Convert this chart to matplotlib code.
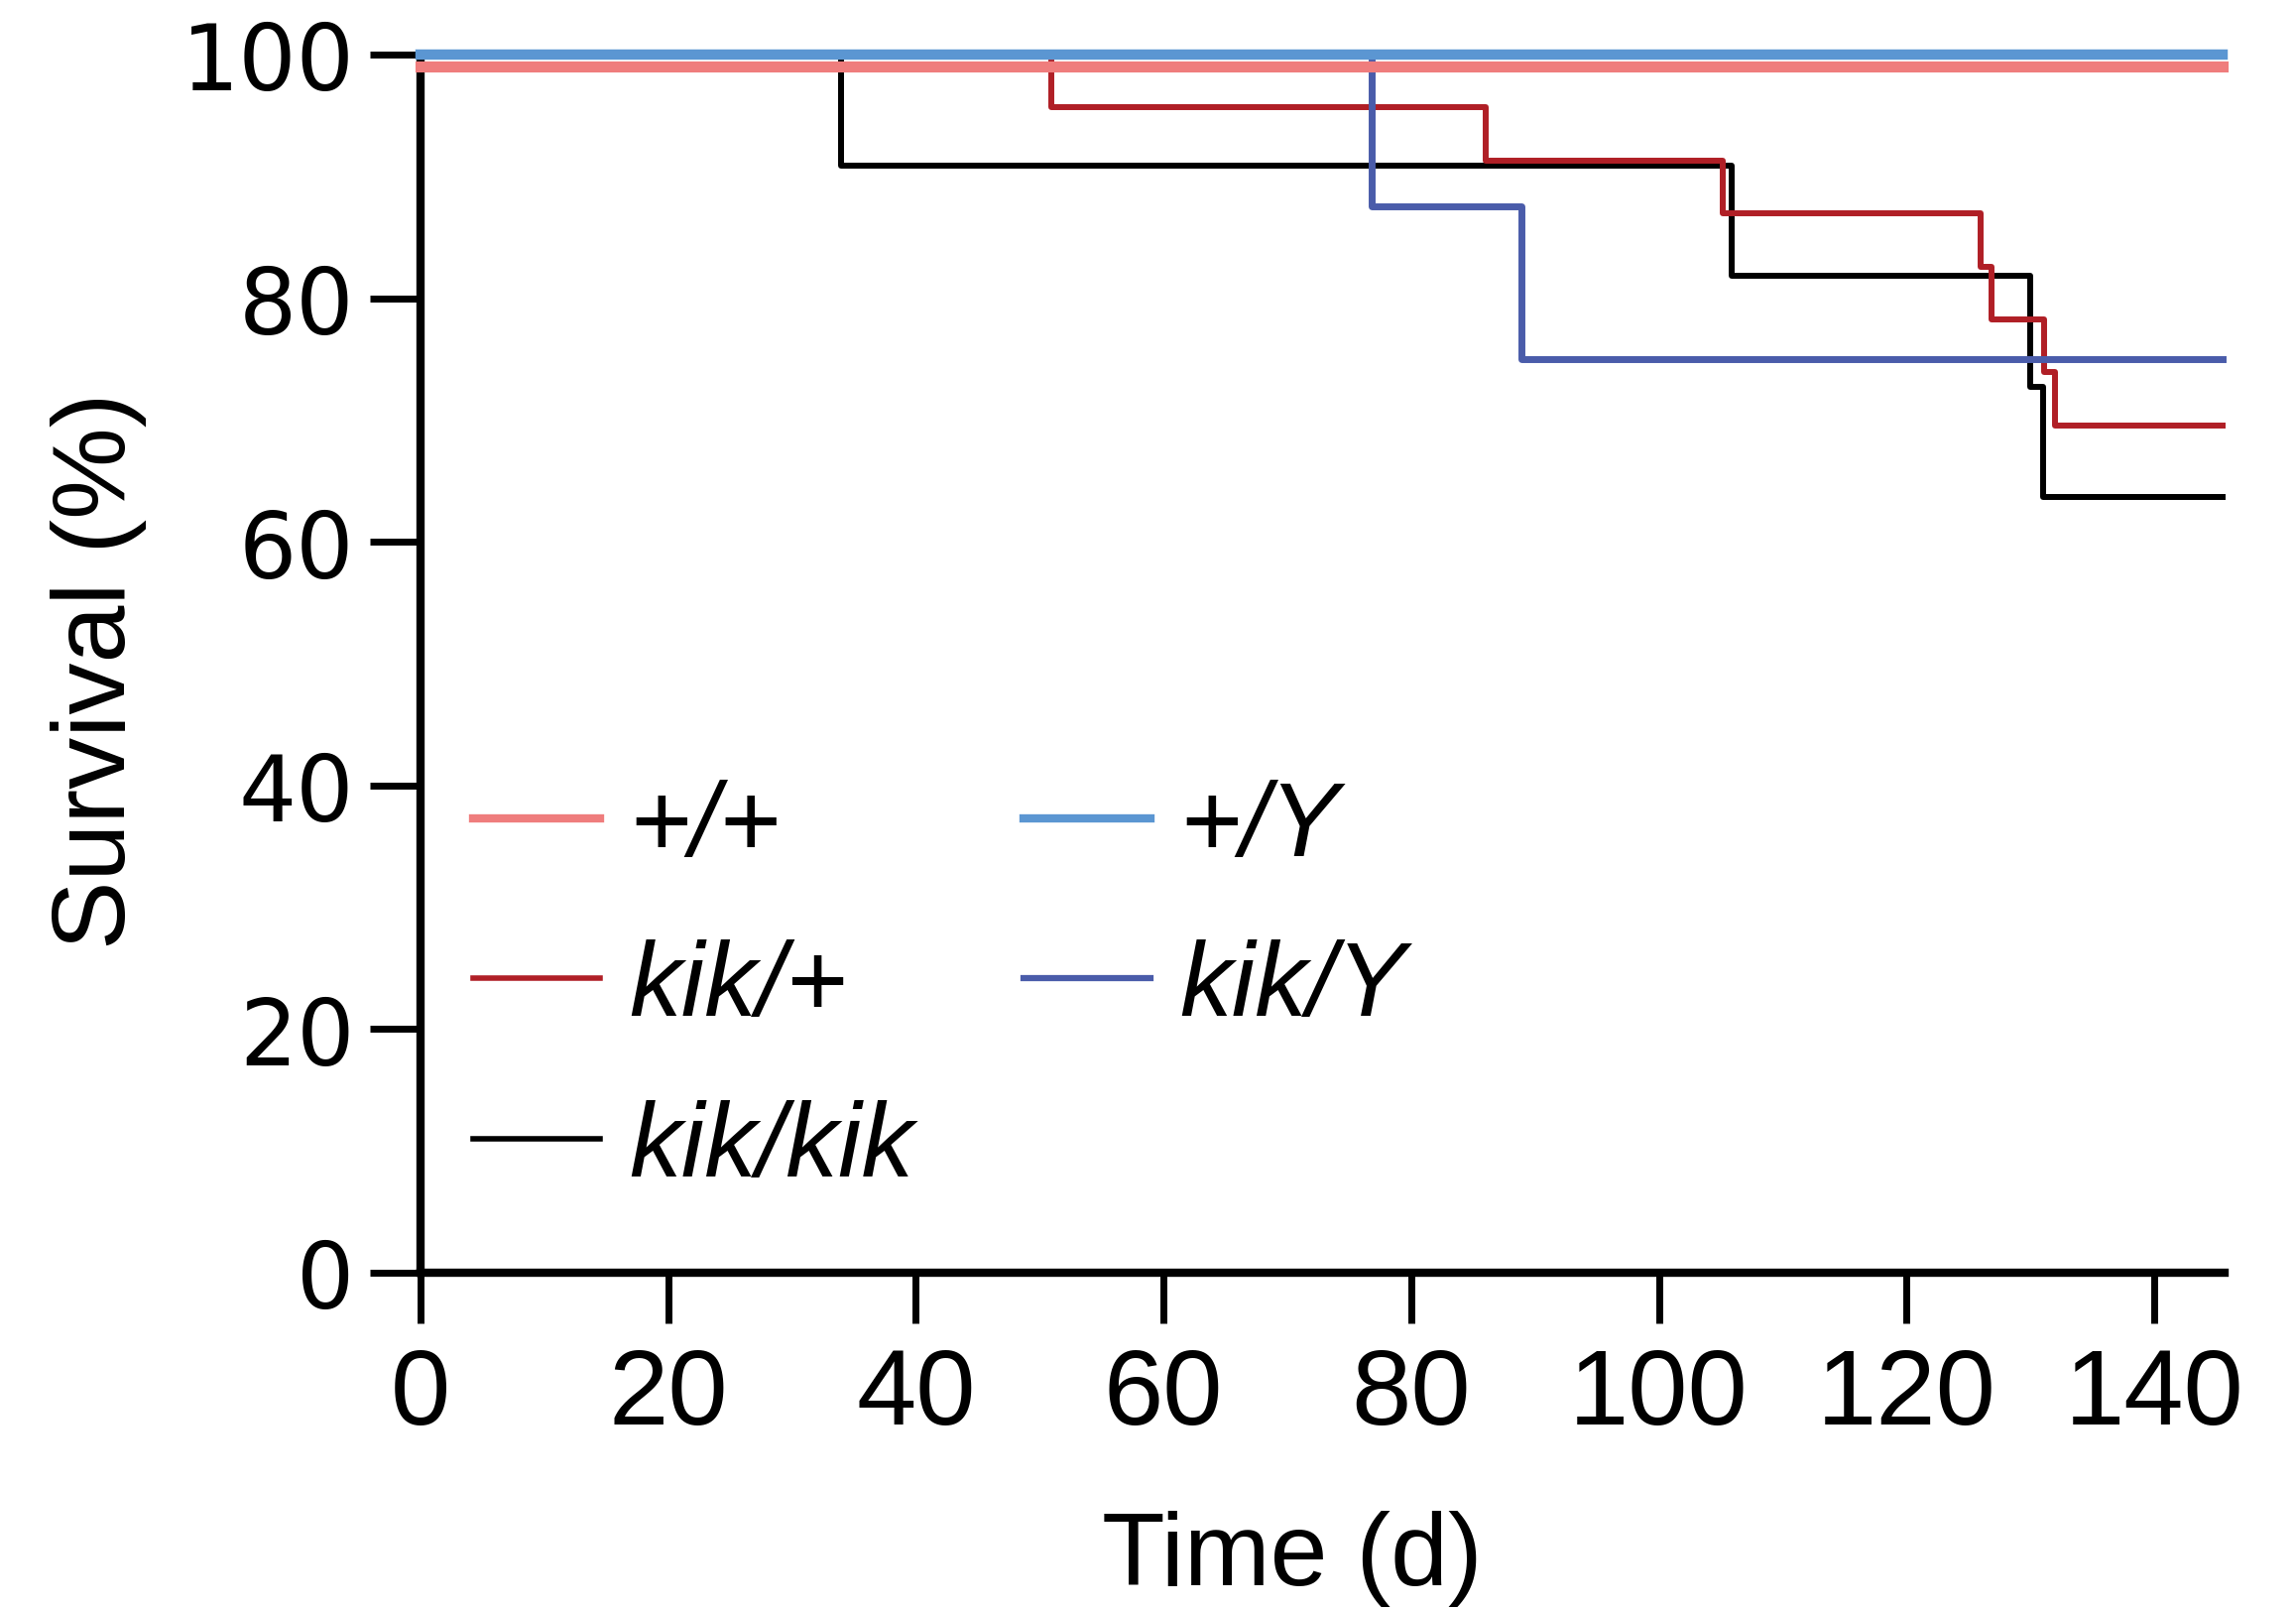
import matplotlib
matplotlib.use("Agg")
import matplotlib.pyplot as plt
from matplotlib import font_manager

# Kaplan-Meier steps: event times (days) and survival (%) after each event
time_wt_female = [0, 145.5]
surv_wt_female = [99.0, 99.0]

time_wt_male = [0, 145.5]
surv_wt_male = [100.0, 100.0]

time_kik_het = [0, 50.9, 86.0, 105.2, 126.0, 126.9, 131.1, 132.0, 145.5]
surv_kik_het = [100.0, 95.65, 91.30, 86.96, 82.61, 78.26, 73.91, 69.57, 69.57]

time_kik_male = [0, 76.8, 88.9, 145.5]
surv_kik_male = [100.0, 87.5, 75.0, 75.0]

time_kik_hom = [0, 34.0, 105.9, 130.0, 131.0, 145.5]
surv_kik_hom = [100.0, 90.91, 81.82, 72.73, 63.64, 63.64]

labels = ["+/+", "kik/+", "kik/kik", "+/Y", "kik/Y"]
colors = {"+/+": "#ef7d7d", "kik/+": "#b01f26", "kik/kik": "#000000",
          "+/Y": "#5b96d2", "kik/Y": "#4a5caa"}

x_ticks = [0, 20, 40, 60, 80, 100, 120, 140]
y_ticks = [0, 20, 40, 60, 80, 100]


def pick_font_files():
    """Return (regular, italic) font files of an Arial-like sans family."""
    wanted = ["Liberation Sans", "Arimo", "Nimbus Sans", "Arial", "Helvetica", "Roboto"]
    for fam in wanted:
        reg = ita = None
        for f in font_manager.fontManager.ttflist:
            if f.name != fam:
                continue
            bold = isinstance(f.weight, int) and f.weight >= 600 or str(f.weight) in ("bold", "heavy", "black", "semibold", "demibold")
            if bold or "Narrow" in f.fname:
                continue
            if f.style == "normal" and reg is None:
                reg = f.fname
            elif f.style in ("italic", "oblique") and ita is None:
                ita = f.fname
        if reg:
            return reg, ita or reg
    return None, None


reg_file, ita_file = pick_font_files()
if reg_file:
    fp_reg = font_manager.FontProperties(fname=reg_file)
    fp_ita = font_manager.FontProperties(fname=ita_file)
else:
    fp_reg = font_manager.FontProperties(family="DejaVu Sans")
    fp_ita = font_manager.FontProperties(family="DejaVu Sans", style="italic")

fig = plt.figure(figsize=(23.15, 16.24), dpi=100)
ax = fig.add_axes([0.18315, 0.20936, 0.7858, 0.75616])

# darker genotype curves sit underneath the wild-type lines
h_hom, = ax.step(time_kik_hom, surv_kik_hom, where="post", color=colors["kik/kik"],
                 lw=4.3, zorder=2, clip_on=False, label="kik/kik")
h_het, = ax.step(time_kik_het, surv_kik_het, where="post", color=colors["kik/+"],
                 lw=4.3, zorder=2.1, clip_on=False, label="kik/+")
h_km, = ax.step(time_kik_male, surv_kik_male, where="post", color=colors["kik/Y"],
                lw=5, zorder=2.2, clip_on=False, label="kik/Y")
h_wf, = ax.step(time_wt_female, surv_wt_female, where="post", color=colors["+/+"],
                lw=8, zorder=3, clip_on=False, label="+/+")
h_wm, = ax.step(time_wt_male, surv_wt_male, where="post", color=colors["+/Y"],
                lw=7.5, zorder=3.1, clip_on=False, label="+/Y")

ax.set_xlim(0, 145.7)
ax.set_ylim(0, 100)
ax.set_xticks(x_ticks)
ax.set_yticks(y_ticks)

for side in ("top", "right"):
    ax.spines[side].set_visible(False)
for side in ("left", "bottom"):
    ax.spines[side].set_linewidth(6)
    ax.spines[side].set_capstyle("projecting")

ax.tick_params(axis="both", direction="out", length=37, width=5, color="black")
ax.tick_params(axis="x", pad=16)
ax.tick_params(axis="y", pad=11)
for lbl in ax.get_xticklabels():
    lbl.set_fontproperties(fp_reg)
    lbl.set_fontsize(78)
for lbl in ax.get_yticklabels():
    lbl.set_fontfamily("DejaVu Sans")
    lbl.set_fontsize(66)

ax.set_xlabel("Time (d)", fontproperties=fp_reg, fontsize=75)
ax.xaxis.set_label_coords(0.4832, -0.1946)
ax.set_ylabel("Survival (%)", fontproperties=fp_reg, fontsize=75)
ax.yaxis.set_label_coords(-0.1517, 0.495)

leg_prop = fp_ita.copy()
leg_prop.set_size(76)
handles = [h_wf, h_het, h_hom, h_wm, h_km]
leg = ax.legend(handles, labels, ncol=2, loc="upper left",
                bbox_to_anchor=(0.0291, 0.4055), borderaxespad=0, borderpad=0,
                frameon=False, handlelength=1.21, handletextpad=0.28,
                columnspacing=1.05, labelspacing=0.59, prop=leg_prop)
# legend keys are drawn a little thinner than the curves themselves
for line, lw in zip(leg.get_lines(), [6, 4, 4, 6, 4.5]):
    line.set_linewidth(lw)

fig.savefig("out.png", dpi=100, facecolor="white")
